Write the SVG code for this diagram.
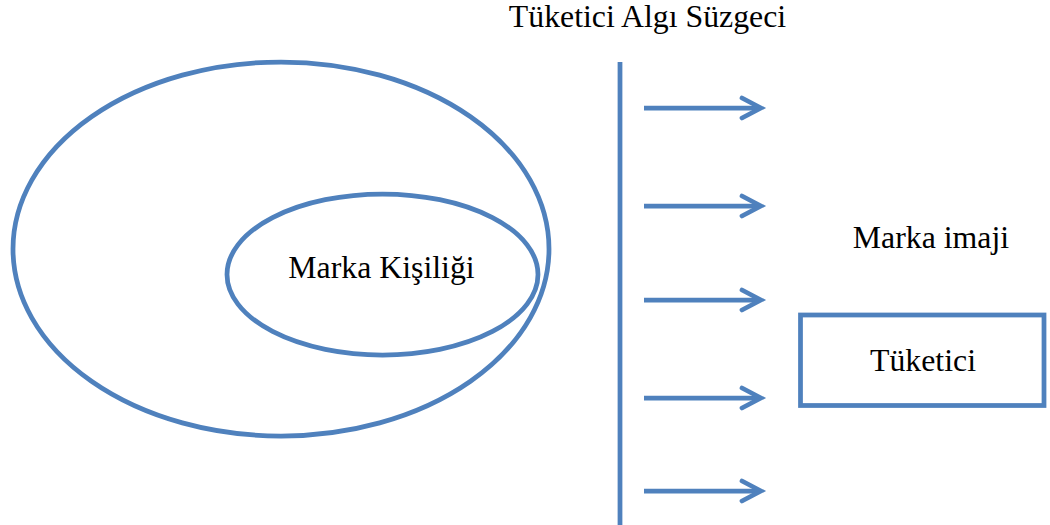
<svg xmlns="http://www.w3.org/2000/svg" width="1050" height="525" viewBox="0 0 1050 525">
  <defs>
    <style>
      .shape { fill: none; stroke: #4F81BD; stroke-width: 4.75; }
      .conn { fill: none; stroke: #4F81BD; stroke-width: 4.75; stroke-linecap: butt; }
      .head { fill: none; stroke: #4F81BD; stroke-width: 4.75; stroke-linecap: round; stroke-linejoin: miter; }
      .label { font-family: "Liberation Serif", "Times New Roman", serif; font-size: 31.8px; fill: #000; text-anchor: middle; }
    </style>
  </defs>
  <rect width="1050" height="525" fill="#ffffff"/>

  <g id="title">
    <text class="label" x="647.5" y="27">Tüketici Algı Süzgeci</text>
  </g>

  <g id="marka-outer">
    <ellipse class="shape" cx="281" cy="249" rx="268" ry="187"/>
  </g>

  <g id="marka-kisiligi">
    <ellipse class="shape" cx="382.5" cy="274.5" rx="155.5" ry="80.5"/>
    <text class="label" x="381.5" y="278">Marka Kişiliği</text>
  </g>

  <g id="filter">
    <line class="shape" x1="620" y1="62" x2="620" y2="525"/>
  </g>

  <g id="marka-imaji">
    <text class="label" x="931" y="248">Marka imaji</text>
  </g>

  <g id="tuketici">
    <rect class="shape" x="800.5" y="315" width="243.5" height="90.5"/>
    <text class="label" x="923" y="371">Tüketici</text>
  </g>

  <g id="connectors">
    <line class="conn" x1="644" y1="108" x2="758" y2="108"/>
    <polyline class="head" points="742,98 761,108 742,118"/>
    <line class="conn" x1="644" y1="206" x2="758" y2="206"/>
    <polyline class="head" points="742,196 761,206 742,216"/>
    <line class="conn" x1="644" y1="300" x2="758" y2="300"/>
    <polyline class="head" points="742,290 761,300 742,310"/>
    <line class="conn" x1="644" y1="398" x2="758" y2="398"/>
    <polyline class="head" points="742,388 761,398 742,408"/>
    <line class="conn" x1="644" y1="491" x2="758" y2="491"/>
    <polyline class="head" points="742,481 761,491 742,501"/>
  </g>
</svg>
